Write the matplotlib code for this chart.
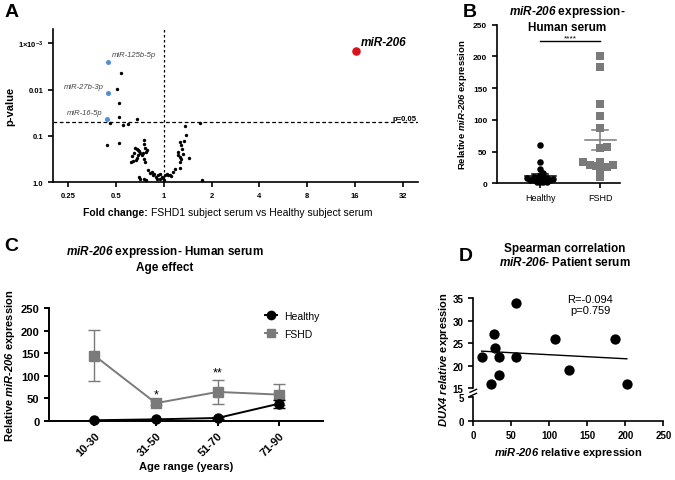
import numpy as np
import matplotlib
matplotlib.use("Agg")
import matplotlib.pyplot as plt
from matplotlib.lines import Line2D

plt.rcParams['font.family'] = ['Liberation Sans', 'DejaVu Sans']
plt.rcParams['mathtext.fontset'] = 'custom'
plt.rcParams['mathtext.rm'] = 'Liberation Sans'
plt.rcParams['mathtext.it'] = 'Liberation Sans:italic'
plt.rcParams['mathtext.bf'] = 'Liberation Sans:bold'
plt.rcParams['mathtext.bfit'] = 'Liberation Sans:italic:bold'

# ---------------- data ----------------
# Panel A: volcano plot
fc_black = [0.538, 0.505, 0.518, 0.525, 0.675, 0.455, 0.549, 0.597, 0.523, 0.438, 1.70, 1.35, 1.38, 1.34, 1.73,
            0.657, 0.673, 0.683, 0.700, 0.707, 0.690, 0.676, 0.667, 0.635, 0.620, 0.626, 0.648,
            0.752, 0.748, 0.759, 0.778, 0.767, 0.741, 0.724, 0.748, 0.759,
            0.700, 0.707, 0.767, 0.748,
            0.797, 0.817, 0.836, 0.857, 0.869, 0.891, 0.899, 0.921, 0.944, 0.967, 0.990, 1.000, 0.944, 1.015,
            1.039, 1.065, 1.091, 1.117, 1.145, 1.173,
            1.261, 1.291, 1.310, 1.323, 1.231, 1.231, 1.261, 1.291, 1.443, 1.261, 1.261]
p_black = [0.0043, 0.0095, 0.0194, 0.040, 0.044, 0.052, 0.059, 0.057, 0.14, 0.16, 0.052, 0.06, 0.0975, 0.129, 0.92,
           0.183, 0.196, 0.206, 0.216, 0.231, 0.264, 0.302, 0.339, 0.356, 0.368, 0.273, 0.231,
           0.123, 0.152, 0.180, 0.206, 0.223, 0.231, 0.264, 0.312, 0.368,
           0.78, 0.847, 0.92, 0.847,
           0.558, 0.628, 0.607, 0.717, 0.682, 0.766, 0.847, 0.717, 0.67, 0.779, 0.819, 0.92, 0.847, 0.717,
           0.659, 0.693, 0.717, 0.741, 0.607, 0.514,
           0.136, 0.160, 0.189, 0.243, 0.224, 0.264, 0.287, 0.312, 0.297, 0.368, 0.497]
blue_names = ['miR-125b-5p', 'miR-27b-3p', 'miR-16-5p']
fc_blue = [0.444, 0.444, 0.435]
p_blue = [0.00254, 0.0116, 0.0435]
red_name = 'miR-206'
fc_red = 16.3
p_red = 0.00148
p_threshold = 0.05
a_xticks = [0.25, 0.5, 1, 2, 4, 8, 16, 32]
a_xticklabels = ['0.25', '0.5', '1', '2', '4', '8', '16', '32']
a_yticks = [1e-3, 0.01, 0.1, 1.0]
a_yticklabels = [r'$\mathbf{1{\times}10^{-3}}$', '0.01', '0.1', '1.0']

# Panel B: scatter
b_groups = ['Healthy', 'FSHD']
b_healthy = [61, 33, 22, 16.7, 13, 10.4, 6.8, 7.8, 5, 9, 7.8, 5, 7, 5, 8, 2.6, 2.6, 1.5, 2.6]
b_fshd = [201, 184, 125, 106, 87, 57, 56, 33, 29, 29, 33, 23, 28, 25, 10.5]

# Panel C: age effect
c_ages = ['10-30', '31-50', '51-70', '71-90']
c_healthy_mean = [1, 3, 6, 38]
c_healthy_err = [1, 1.5, 2, 9]
c_fshd_mean = [145, 39, 64, 58]
c_fshd_err = [57, 5, 27, 24]
c_stars = ['', '*', '**', '']

# Panel D: correlation
d_mir206 = [11, 23, 27, 29, 34, 34, 56, 56, 107, 126, 186, 202]
d_dux4 = [22, 16, 27, 24, 22, 18, 34, 22, 26, 19, 26, 16]
d_text = 'R=-0.094\np=0.759'

# ---------------- figure ----------------
W, H = 675, 481
fig = plt.figure(figsize=(W / 100, H / 100), dpi=100)


def box(l, t, r, b):
    return [l / W, 1 - b / H, (r - l) / W, (b - t) / H]


def style(ax, lw=1.3):
    ax.spines['top'].set_visible(False)
    ax.spines['right'].set_visible(False)
    for s in ('left', 'bottom'):
        ax.spines[s].set_linewidth(lw)
    ax.tick_params(width=lw, length=3.5, direction='out')


grey = '#7a7a7a'

# ---------- Panel A ----------
axA = fig.add_axes(box(53, 29.5, 418, 183))
style(axA, 1.2)
axA.set_xscale('log', base=2)
axA.set_yscale('log')
axA.set_xlim(0.2, 40)
axA.set_ylim(1.0, 10 ** -3.32)
axA.scatter(fc_black, p_black, s=6, color='black', zorder=3, clip_on=False, linewidths=0)
axA.scatter(fc_blue, p_blue, s=13, color='#4f8fd6', zorder=3, linewidths=0)
axA.scatter([fc_red], [p_red], s=38, color='#d9131b', zorder=3, linewidths=0)
axA.axhline(p_threshold, color='black', ls=(0, (3, 2)), lw=0.9)
axA.axvline(1, color='black', ls=(0, (2, 2)), lw=0.9)
axA.text(0.995, p_threshold, 'p=0.05', transform=axA.get_yaxis_transform(),
         ha='right', va='bottom', fontsize=5.5, fontweight='bold')
offs = [((3, 3), 'left', 'bottom'), ((-3, 2), 'right', 'bottom'), ((-3, 2), 'right', 'bottom')]
for name, x, y, (o, ha, va) in zip(blue_names, fc_blue, p_blue, offs):
    axA.annotate(name, (x, y), xytext=o, textcoords='offset points', ha=ha, va=va,
                 fontsize=5.5, style='italic', color='#444444')
axA.annotate(red_name, (fc_red, p_red), xytext=(3, 2), textcoords='offset points',
             ha='left', va='bottom', fontsize=8.5, style='italic', fontweight='bold')
axA.set_xticks(a_xticks)
axA.set_xticklabels(a_xticklabels)
axA.xaxis.set_minor_locator(matplotlib.ticker.NullLocator())
axA.set_yticks(a_yticks)
axA.set_yticklabels(a_yticklabels)
axA.yaxis.set_minor_locator(matplotlib.ticker.NullLocator())
axA.tick_params(labelsize=5.5)
for lab in axA.get_xticklabels() + axA.get_yticklabels():
    lab.set_fontweight('bold')
axA.set_ylabel('p-value', fontsize=8, fontweight='bold', labelpad=2)
fig.text(148 / W, 1 - 213 / H, 'Fold change:', ha='right', va='center', fontsize=7.5, fontweight='bold')
fig.text(151 / W, 1 - 213 / H, 'FSHD1 subject serum vs Healthy subject serum', ha='left', va='center',
         fontsize=7.5)
fig.text(5 / W, 1 - 17 / H, 'A', fontsize=14, fontweight='bold')

# ---------- Panel B ----------
axB = fig.add_axes(box(497, 25.7, 620, 184.3))
style(axB, 1.2)
axB.set_xlim(-0.72, 1.33)
axB.set_ylim(0, 250)
fig.canvas.draw()


def swarm(ax, values, center, diam_px, overlap=0.7):
    """Place points beeswarm style around center; returns x positions."""
    trans = ax.transData
    placed = []
    xs = np.zeros(len(values))
    order = np.argsort(values)
    for i in order:
        v = values[i]
        cx, py = trans.transform((center, v))
        cands = [0]
        for k in range(1, 80):
            cands += [k * diam_px * 0.25, -k * diam_px * 0.25]
        for dx in cands:
            ok = all((cx + dx - qx) ** 2 + (py - qy) ** 2 >= (diam_px * overlap) ** 2 for qx, qy in placed)
            if ok:
                placed.append((cx + dx, py))
                xs[i] = trans.inverted().transform((cx + dx, py))[0]
                break
    return xs


xh = swarm(axB, np.array(b_healthy), 0, 6.5, 0.5)
xf = swarm(axB, np.array(b_fshd), 1, 8.5, 0.6)
axB.scatter(xh, b_healthy, s=22, color='black', marker='o', zorder=3, clip_on=False, linewidths=0)
axB.scatter(xf, b_fshd, s=36, color=grey, marker='s', zorder=3, clip_on=False, linewidths=0)
for i, vals in enumerate([b_healthy, b_fshd]):
    m = np.mean(vals)
    se = np.std(vals, ddof=1) / np.sqrt(len(vals))
    col = 'black' if i == 0 else grey
    axB.plot([i - 0.26, i + 0.26], [m, m], color=col, lw=1.1, zorder=4)
    axB.plot([i - 0.13, i + 0.13], [m + se, m + se], color=col, lw=1.1, zorder=4)
    axB.plot([i - 0.13, i + 0.13], [m - se, m - se], color=col, lw=1.1, zorder=4)
    axB.plot([i, i], [m - se, m + se], color=col, lw=1.1, zorder=4)
axB.plot([0, 1], [224, 224], color='black', lw=1.0, clip_on=False)
axB.text(0.5, 224, '****', ha='center', va='bottom', fontsize=6)
axB.set_xticks([0, 1])
axB.set_xticklabels(b_groups, fontsize=6.5)
axB.set_yticks([0, 50, 100, 150, 200, 250])
axB.tick_params(axis='y', labelsize=6)
for lab in axB.get_yticklabels():
    lab.set_fontweight('bold')
axB.set_ylabel(r'Relative $\mathbfit{miR}$-$\mathbfit{206}$ expression', fontsize=6.8,
               fontweight='bold', labelpad=3)
fig.text(567 / W, 1 - 19 / H, r'$\mathbfit{miR}$-$\mathbfit{206}$ expression-' + '\nHuman serum',
         ha='center', va='center', fontsize=8.5, fontweight='bold', linespacing=1.15)
fig.text(463 / W, 1 - 17 / H, 'B', fontsize=14, fontweight='bold')

# ---------- Panel C ----------
axC = fig.add_axes(box(49.3, 309.3, 323, 421.7))
style(axC, 1.4)
xc = np.arange(len(c_ages))
axC.errorbar(xc, c_fshd_mean, yerr=c_fshd_err, color=grey, marker='s', ms=6.5, lw=1.4,
             capsize=4, elinewidth=1.0, capthick=1.0, zorder=3, clip_on=False)
axC.errorbar(xc, c_healthy_mean, yerr=c_healthy_err, color='black', marker='o', ms=6.5, lw=1.4,
             capsize=4, elinewidth=1.0, capthick=1.0, zorder=4, clip_on=False)
for x, m, e, s in zip(xc, c_fshd_mean, c_fshd_err, c_stars):
    if s:
        axC.text(x, m + e + 2, s, ha='center', va='bottom', fontsize=9)
axC.set_xlim(-0.73, 3.71)
axC.set_ylim(0, 250)
axC.set_yticks([0, 50, 100, 150, 200, 250])
axC.set_xticks(xc)
axC.set_xticklabels(c_ages, rotation=45, ha='right', rotation_mode='anchor')
axC.tick_params(labelsize=8)
for lab in axC.get_xticklabels() + axC.get_yticklabels():
    lab.set_fontweight('bold')
axC.set_ylabel(r'Relative $\mathbfit{miR}$-$\mathbfit{206}$ expression', fontsize=8,
               fontweight='bold', labelpad=3)
axC.set_xlabel('Age range (years)', fontsize=8, fontweight='bold', labelpad=2)
handles = [Line2D([], [], color='black', marker='o', ms=6, lw=1.4),
           Line2D([], [], color=grey, marker='s', ms=6, lw=1.4)]
axC.legend(handles, ['Healthy', 'FSHD'], loc='upper right', bbox_to_anchor=(1.02, 1.06), frameon=False,
           fontsize=7.5, handlelength=1.2, handletextpad=0.6, labelspacing=0.75)
fig.text(165 / W, 1 - 259 / H, r'$\mathbfit{miR}$-$\mathbfit{206}$ expression- Human serum' + '\nAge effect',
         ha='center', va='center', fontsize=8.5, fontweight='bold', linespacing=1.15)
fig.text(4 / W, 1 - 251 / H, 'C', fontsize=14, fontweight='bold')

# ---------- Panel D ----------
axDt = fig.add_axes(box(473.3, 299, 663.3, 389.3))
axDb = fig.add_axes(box(473.3, 398.3, 663.3, 421.7), sharex=axDt)
for ax in (axDt, axDb):
    style(ax, 1.2)
axDt.spines['bottom'].set_visible(False)
axDt.tick_params(axis='x', bottom=False, labelbottom=False)
axDt.set_ylim(15, 35)
axDb.set_ylim(0, 5)
axDt.set_xlim(0, 250)
axDt.set_yticks([15, 20, 25, 30, 35])
axDb.set_yticks([0, 5])
axDb.set_xticks([0, 50, 100, 150, 200, 250])
for ax in (axDt, axDb):
    ax.tick_params(labelsize=7)
    for lab in ax.get_xticklabels() + ax.get_yticklabels():
        lab.set_fontweight('bold')
axDt.scatter(d_mir206, d_dux4, s=55, color='black', zorder=3, linewidths=0, clip_on=False)
k, b0 = np.polyfit(d_mir206, d_dux4, 1)
xr = np.array([min(d_mir206), max(d_mir206)])
axDt.plot(xr, k * xr + b0, color='black', lw=1.0)
axDt.text(0.615, 1.04, d_text, transform=axDt.transAxes, ha='center', va='top', fontsize=8, linespacing=1.1)
# break marks
for y0 in (389.3 + 1, 398.3 - 4):
    fig.add_artist(plt.Line2D([470 / W, 476.5 / W], [1 - (y0 + 3) / H, 1 - y0 / H],
                              color='black', lw=1.0))
axDb.set_xlabel(r'$\mathbfit{miR}$-$\mathbfit{206}$ relative expression', fontsize=8,
                fontweight='bold', labelpad=3)
fig.text(444 / W, 1 - 360 / H, r'$\mathbfit{DUX4\ relative}$ expression', rotation=90,
         ha='center', va='center', fontsize=8, fontweight='bold')
fig.text(565 / W, 1 - 256 / H, 'Spearman correlation\n' + r'$\mathbfit{miR}$-$\mathbfit{206}$- Patient serum',
         ha='center', va='center', fontsize=8.5, fontweight='bold', linespacing=1.15)
fig.text(459 / W, 1 - 261 / H, 'D', fontsize=14, fontweight='bold')

fig.savefig('out.png', dpi=100)
